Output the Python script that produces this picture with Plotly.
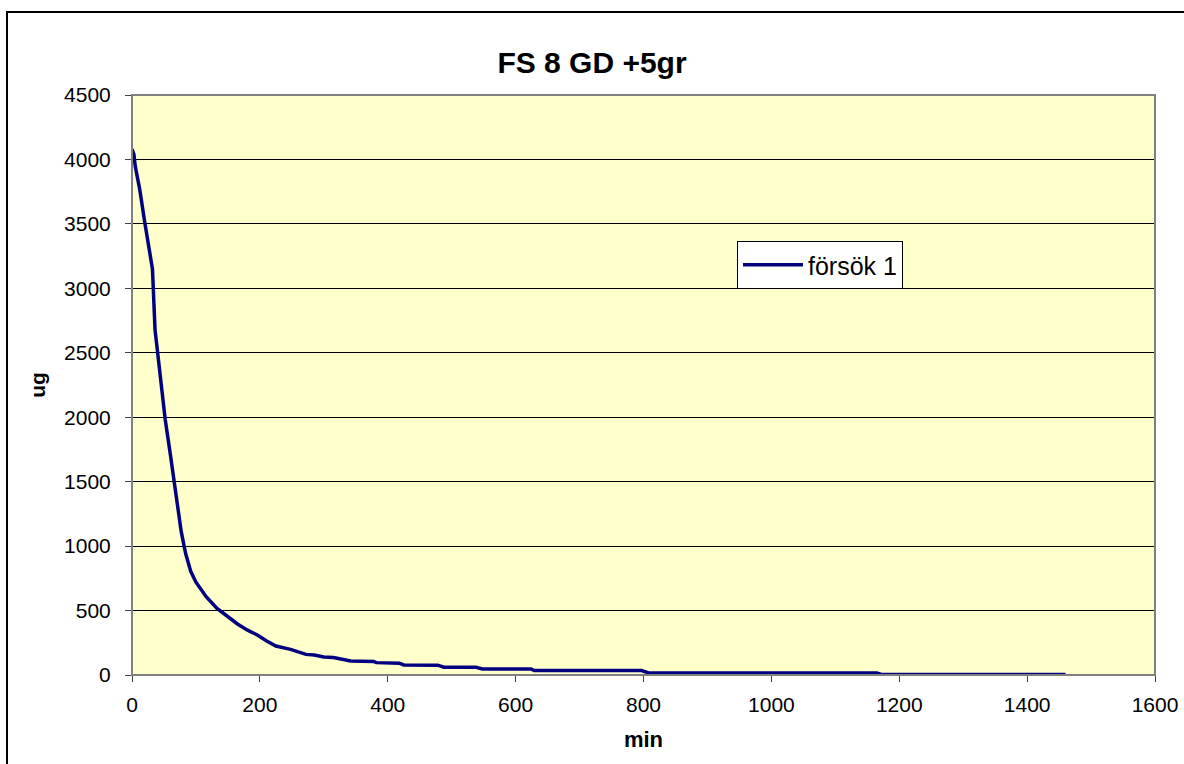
import plotly.graph_objects as go

# Data (time in min, amount in ug)
minutes = [0, 3, 5, 12, 20, 28, 32, 36, 44, 52, 60, 68, 77, 84, 92, 100, 105, 116, 133, 150,
           165, 180, 196, 210, 225, 248, 272, 285, 300, 315, 330, 342, 378, 382, 418, 425,
           478, 488, 538, 548, 624, 629, 797, 808, 1165, 1172, 1460]
ug = [4080, 4040, 3950, 3770, 3510, 3250, 3150, 2680, 2330, 1980, 1710, 1435, 1112, 940, 802,
      720, 685, 608, 517, 450, 396, 350, 310, 265, 225, 199, 160, 155, 140, 135, 118, 108,
      105, 96, 92, 78, 76, 60, 60, 47, 47, 34, 34, 16, 16, 4, 4]

title_text = "FS 8 GD +5gr"
series_name = "försök 1"
x_title = "min"
y_title = "ug"

FONT = "Arial, Liberation Sans, sans-serif"

fig = go.Figure()
fig.add_trace(go.Scatter(x=minutes, y=ug, mode="lines", name=series_name,
                         line=dict(color="#000080", width=3.5)))

fig.update_layout(
    width=1184, height=764,
    margin=dict(l=132, r=29, t=95, b=89),
    paper_bgcolor="white",
    plot_bgcolor="#FFFFCC",
    font=dict(family=FONT, size=20, color="black"),
    title=dict(text="<b>" + title_text + "</b>", x=0.5, xanchor="center",
               y=1 - 62 / 764, yanchor="middle",
               font=dict(size=30, family=FONT)),
    showlegend=True,
    legend=dict(x=(737 - 132) / 1023, y=(675 - 241) / 580, xanchor="left", yanchor="top",
                bgcolor="white", bordercolor="black", borderwidth=1,
                font=dict(size=25), itemwidth=60),
    xaxis=dict(range=[0, 1600], tickvals=[0, 200, 400, 600, 800, 1000, 1200, 1400, 1600],
               showgrid=False, zeroline=False, showline=True, linecolor="#404040",
               linewidth=1, ticks="outside", ticklen=6, tickcolor="#404040",
               tickfont=dict(size=21), ticklabelstandoff=5, automargin=False,
               title=dict(text="<b>" + x_title + "</b>", font=dict(size=22), standoff=16)),
    yaxis=dict(range=[0, 4500], tickvals=list(range(0, 4501, 500)),
               showgrid=True, gridcolor="black", gridwidth=1, zeroline=False,
               showline=True, linecolor="#404040", linewidth=1, ticks="outside",
               ticklen=6, tickcolor="#404040", tickfont=dict(size=21), ticklabelstandoff=10,
               automargin=False,
               title=dict(text="<b>" + y_title + "</b>", font=dict(size=21), standoff=12)),
)

# plot area border (gray) and outer chart border (black)
fig.add_shape(type="rect", xref="paper", yref="paper", x0=0, y0=0, x1=1, y1=1,
              line=dict(color="#808080", width=2), layer="above")
fig.add_shape(type="rect", xref="paper", yref="paper",
              x0=(7 - 132) / 1023, y0=-0.3, x1=1.1, y1=(675 - 12) / 580,
              line=dict(color="black", width=2))

fig.write_html("out.html")
